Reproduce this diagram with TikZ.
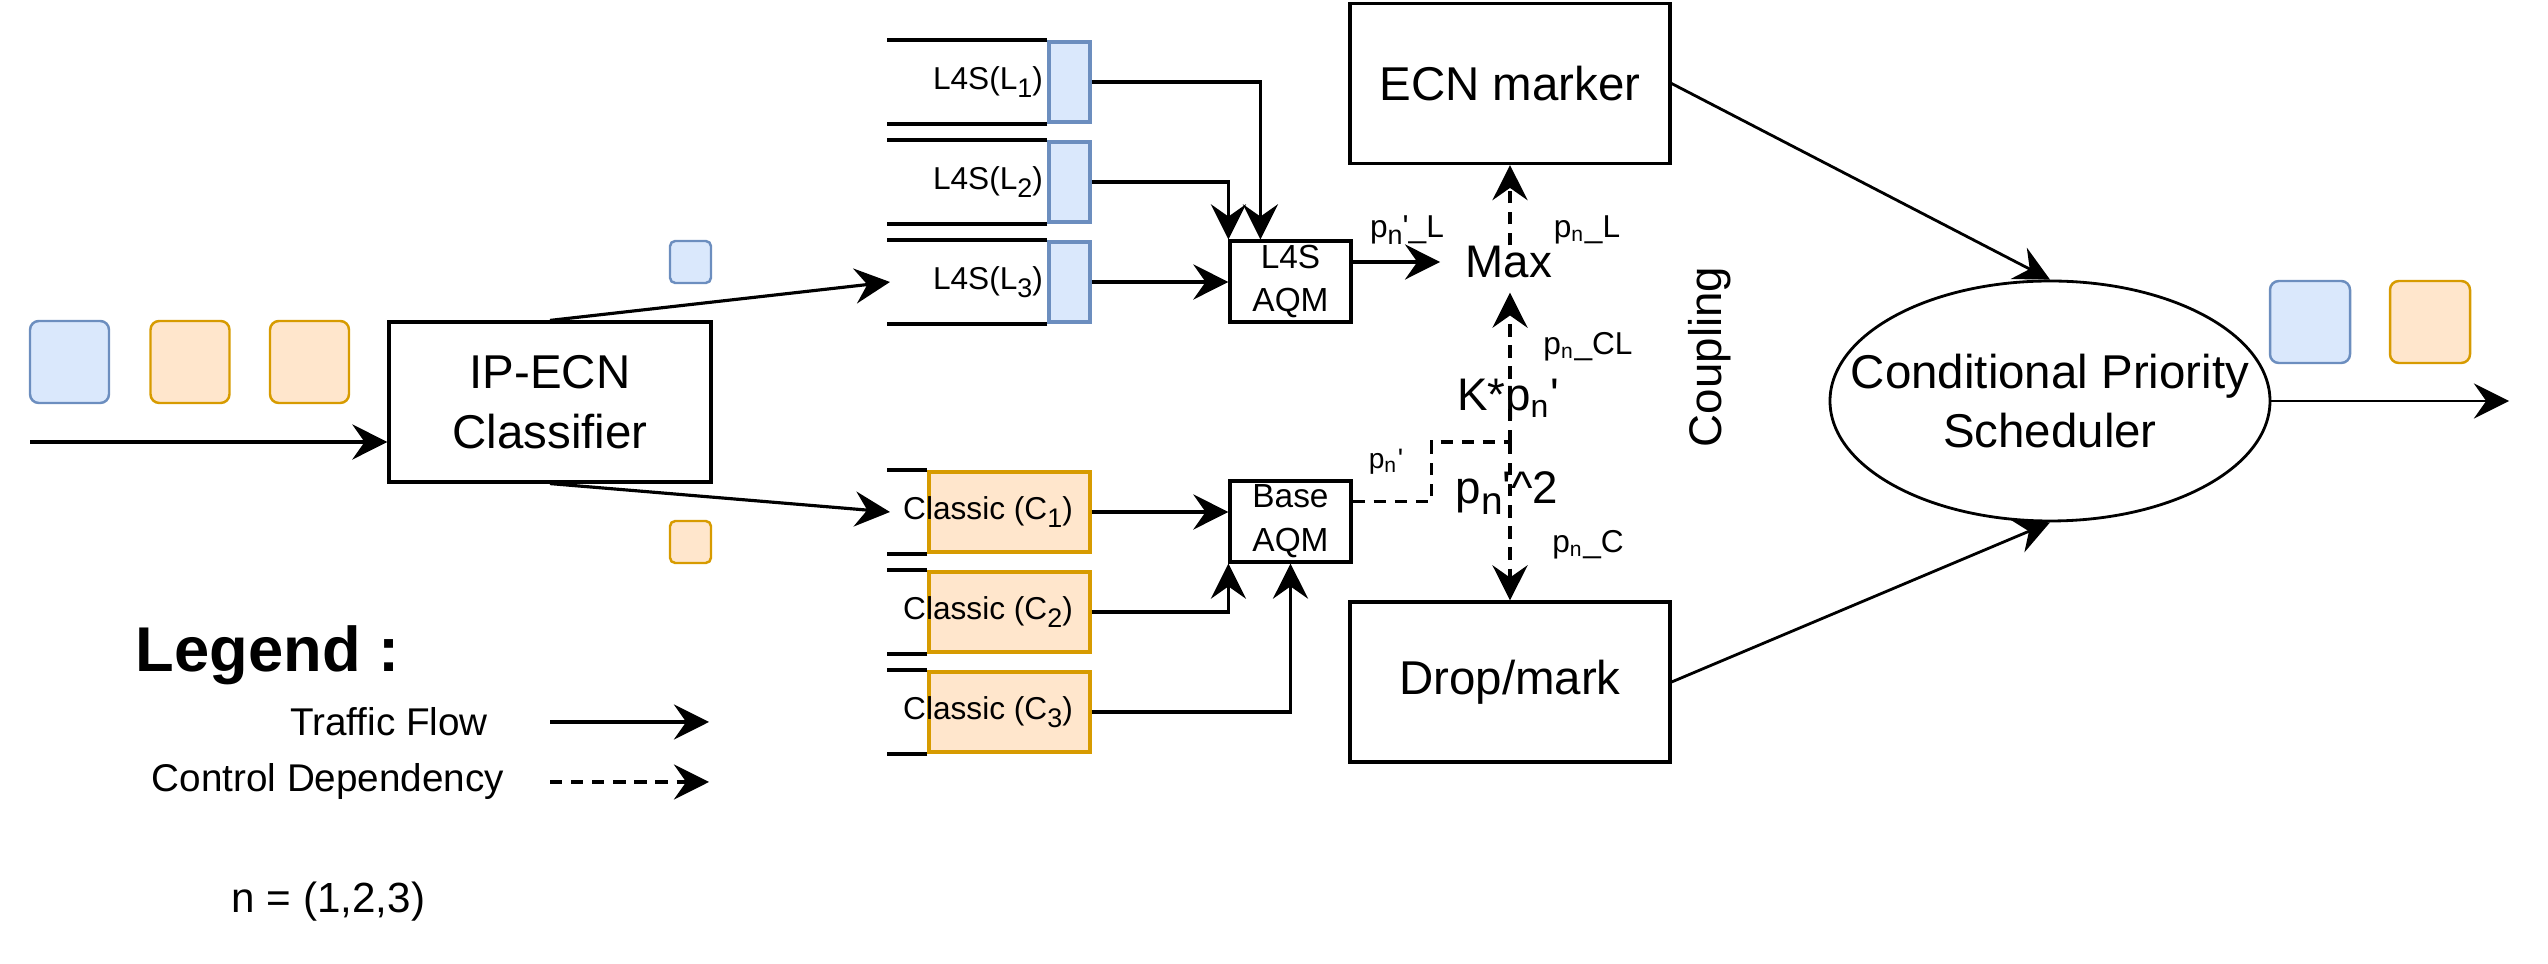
\documentclass[tikz,border=0pt]{standalone}
\usepackage{fontspec}
\setmainfont{Liberation Sans}
\usetikzlibrary{arrows.meta,shapes.geometric}

\definecolor{lblue}{HTML}{DAE8FC}
\definecolor{dblue}{HTML}{6C8EBF}
\definecolor{lorange}{HTML}{FFE6CC}
\definecolor{dorange}{HTML}{D79B00}
\newcommand\lowsub[1]{\raisebox{-0.45ex}{\scalebox{0.85}{#1}}}

\begin{document}
\begin{tikzpicture}[
    flow/.style={line width=0.9pt,-{Stealth[length=10pt,width=10pt,inset=3.5pt]}},
    ctrl/.style={flow,dash pattern=on 3.5pt off 2.5pt},
    blk/.style={draw,line width=0.9pt,align=center,inner sep=0pt,font=\fontsize{13.5}{17}\selectfont},
    aqm/.style={draw,line width=0.9pt,align=center,inner sep=0pt,minimum width=1.21cm,minimum height=0.81cm,font=\fontsize{9.5}{12.5}\selectfont},
    lq/.style={draw=dblue,fill=lblue,line width=1pt,inner sep=0pt,minimum width=0.41cm,minimum height=0.8cm},
    cq/.style={draw=dorange,fill=lorange,line width=1pt,inner sep=0pt,minimum width=1.61cm,minimum height=0.8cm},
    pkb/.style={draw=dblue,fill=lblue,line width=0.7pt,rounded corners=2.5pt,inner sep=0pt},
    pko/.style={draw=dorange,fill=lorange,line width=0.7pt,rounded corners=2.5pt,inner sep=0pt},
    qtxt/.style={inner sep=0pt,font=\fontsize{9}{10}\selectfont},
    lbl/.style={inner sep=0pt,font=\fontsize{9}{10}\selectfont},
    frm/.style={inner sep=0pt,font=\fontsize{13}{15}\selectfont}
  ]
  \useasboundingbox (0,0) rectangle (25.48,9.64);

  % packets and classifier
  \node[pkb,minimum width=0.79cm,minimum height=0.82cm] (pin1) at (0.695,6.02) {};
  \node[pko,minimum width=0.79cm,minimum height=0.82cm] (pin2) at (1.90,6.02) {};
  \node[pko,minimum width=0.79cm,minimum height=0.82cm] (pin3) at (3.095,6.02) {};
  \node[blk,minimum width=3.22cm,minimum height=1.6cm] (cls) at (5.50,5.62) {IP-ECN\\Classifier};
  \coordinate (src) at (0.30,5.22);
  \draw[flow] (src) -- (src -| cls.west);
  \node[pkb,rounded corners=1.5pt,minimum width=0.41cm,minimum height=0.42cm] (pl) at (6.905,7.02) {};
  \node[pko,rounded corners=1.5pt,minimum width=0.41cm,minimum height=0.42cm] (pc) at (6.905,4.22) {};
  \coordinate (lin) at (8.90,6.82);
  \coordinate (cin) at (8.90,4.52);
  \draw[flow] (cls.north) -- (lin);
  \draw[flow] (cls.south) -- (cin);

  % queues
  \node[lq] (l1) at (10.695,8.82) {};
  \node[lq] (l2) at (10.695,7.82) {};
  \node[lq] (l3) at (10.695,6.82) {};
  \node[cq] (c1) at (10.095,4.52) {};
  \node[cq] (c2) at (10.095,3.52) {};
  \node[cq] (c3) at (10.095,2.52) {};
  \foreach \q in {l1,l2,l3}{
    \draw[line width=1pt] (\q.north west) -- ++(-1.60,0);
    \draw[line width=1pt] (\q.south west) -- ++(-1.60,0);
  }
  \foreach \q in {c1,c2,c3}{
    \draw[line width=1pt] (\q.north west) -- ++(-0.40,0);
    \draw[line width=1pt] (\q.south west) -- ++(-0.40,0);
  }
  \node[qtxt] (tl1) at (9.88,8.82) {L4S(L\lowsub{1})};
  \node[qtxt] (tl2) at (9.88,7.82) {L4S(L\lowsub{2})};
  \node[qtxt] (tl3) at (9.88,6.82) {L4S(L\lowsub{3})};
  \node[qtxt] (tc1) at (9.88,4.52) {Classic (C\lowsub{1})};
  \node[qtxt] (tc2) at (9.88,3.52) {Classic (C\lowsub{2})};
  \node[qtxt] (tc3) at (9.88,2.52) {Classic (C\lowsub{3})};

  % AQMs
  \node[aqm] (l4s) at (12.905,6.825) {L4S\\AQM};
  \node[aqm] (base) at (12.905,4.425) {Base\\AQM};
  \draw[flow] (l1.east) -| ([xshift=0.32cm]l4s.north west);
  \draw[flow] (l2.east) -| (l4s.north west);
  \draw[flow] (l3.east) -- (l3.east -| l4s.west);
  \draw[flow] (c1.east) -- (c1.east -| base.west);
  \draw[flow] (c2.east) -| (base.south west);
  \draw[flow] (c3.east) -| (base.south);

  % coupling
  \node[blk,minimum width=3.2cm,minimum height=1.6cm] (ecn) at (15.10,8.805) {ECN marker};
  \node[blk,minimum width=3.2cm,minimum height=1.6cm] (drop) at (15.10,2.82) {Drop/mark};
  \node[frm] (max) at (15.09,7.02) {Max};
  \draw[flow,shorten >=0.25cm] (l4s.east |- max.west) -- (max.west);
  \draw[ctrl] (max.north -| ecn.south) -- (ecn.south);
  \coordinate (jn) at (15.10,5.22);
  \draw[line width=0.9pt,dash pattern=on 3.5pt off 2.5pt] ([yshift=0.2cm]base.east) -- ++(0.79,0) |- (jn);
  \draw[ctrl,shorten >=0.14cm] (jn) -- (jn |- max.south);
  \draw[ctrl] (jn) -- (drop.north);
  \node[lbl] (lp1) at (14.07,7.34) {p\lowsub{n}\textquotesingle\_L};
  \node[lbl] (lp2) at (15.87,7.34) {p\textsubscript{n}\_L};
  \node[lbl] (lcl) at (15.88,6.17) {p\textsubscript{n}\_CL};
  \node[frm] (kp) at (15.08,5.64) {K*p\textsubscript{n}\textquotesingle};
  \node[lbl,font=\fontsize{8}{9}\selectfont] (lpp) at (13.86,5.02) {p\textsubscript{n}\textquotesingle};
  \node[frm] (psq) at (15.07,4.71) {p\lowsub{n}\textquotesingle\textasciicircum 2};
  \node[lbl] (lpc) at (15.88,4.19) {p\textsubscript{n}\_C};
  \node[frm,rotate=90] (cpl) at (17.10,6.07) {Coupling};

  % scheduler
  \node[draw,ellipse,line width=0.8pt,minimum width=4.4cm,minimum height=2.4cm,inner sep=0pt] (sch) at (20.50,5.63) {};
  \node[align=center,inner sep=0pt,font=\fontsize{13.5}{17}\selectfont] (scht) at (sch) {Conditional Priority\\Scheduler};
  \draw[flow,line width=0.8pt] (ecn.east) -- (sch.north);
  \draw[flow,line width=0.8pt] (drop.east) -- (sch.south);
  \coordinate (snk) at (25.09,5.63);
  \draw[flow,line width=0.7pt] (sch.east) -- (snk);
  \node[pkb,minimum width=0.80cm,minimum height=0.82cm] (pout1) at (23.10,6.42) {};
  \node[pko,minimum width=0.80cm,minimum height=0.82cm] (pout2) at (24.30,6.42) {};

  % legend
  \node[font=\bfseries\fontsize{18}{20}\selectfont] (leg) at (2.675,3.09) {Legend :};
  \node[font=\fontsize{11}{13}\selectfont] (ltf) at (3.89,2.42) {Traffic Flow};
  \node[font=\fontsize{11}{13}\selectfont] (lcd) at (3.28,1.82) {Control Dependency};
  \coordinate (tfs) at (5.50,2.42);
  \coordinate (tfe) at (7.09,2.42);
  \coordinate (cds) at (5.50,1.82);
  \coordinate (cde) at (7.09,1.82);
  \draw[flow] (tfs) -- (tfe);
  \draw[ctrl] (cds) -- (cde);
  \node[font=\fontsize{12}{14}\selectfont] (nn) at (3.285,0.62) {n = (1,2,3)};
\end{tikzpicture}
\end{document}
